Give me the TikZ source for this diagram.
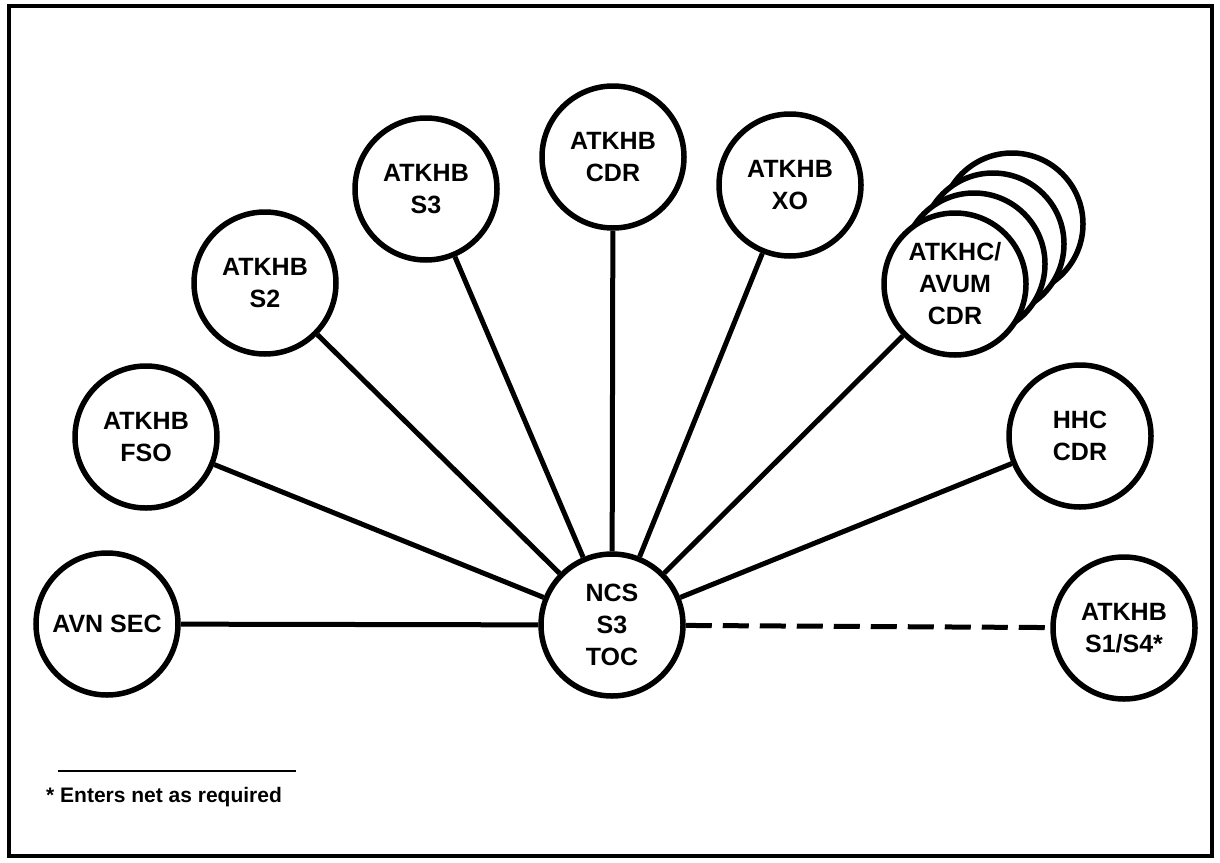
\documentclass[tikz,border=0pt]{standalone}
\usepackage{fontspec}
\setmainfont{Liberation Sans}
\begin{document}
\begin{tikzpicture}[x=1pt,y=-1pt,
  unit/.style={circle, draw, line width=5.5pt, minimum size=142pt, inner sep=0pt,
    fill=white, align=center, font=\bfseries\fontsize{25}{32}\selectfont},
  link/.style={line width=5pt},
  optlink/.style={line width=5pt, dash pattern=on 26pt off 11pt}]
\useasboundingbox (0,0) rectangle (1220,862);
% frame
\draw[line width=4.5pt] (9,6) rectangle (1212,856);

% net control station
\node[unit] (ncs) at (612,625) {NCS\\S3\\TOC};

% stations on the net
\node[unit] (avn) at (107,624) {AVN SEC};
\node[unit] (fso) at (146,437) {ATKHB\\FSO};
\node[unit] (s2)  at (265,283) {ATKHB\\S2};
\node[unit] (s3)  at (426,189) {ATKHB\\S3};
\node[unit] (cdr) at (613,157) {ATKHB\\CDR};
\node[unit] (xo)  at (790,185) {ATKHB\\XO};
% stacked company commanders
\node[unit] (co3) at (1012,224) {};
\node[unit] (co2) at (993,244) {};
\node[unit] (co1) at (974,264) {};
\node[unit] (atkhc) at (955,284) {ATKHC/\\AVUM\\CDR};
\node[unit] (hhc) at (1080,436) {HHC\\CDR};
\node[unit] (s14) at (1124,628) {ATKHB\\S1/S4*};

% links
\foreach \n in {avn,fso,s2,s3,cdr,xo,atkhc,hhc}
  \draw[link] (ncs) -- (\n);
\draw[optlink] (ncs) -- (s14);

% footnote
\draw[line width=1.8pt] (58,771) -- (296,771);
\node[anchor=west, inner sep=0pt, font=\bfseries\fontsize{21}{25}\selectfont] (note) at (46,797) {* Enters net as required};
\end{tikzpicture}
\end{document}
